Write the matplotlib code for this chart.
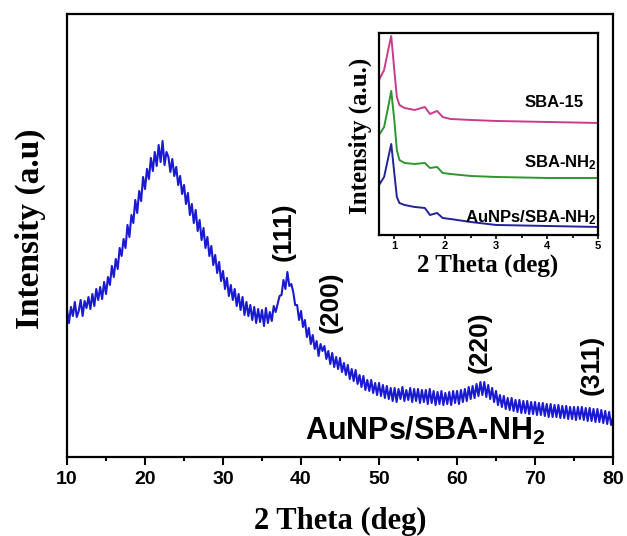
import numpy as np
import matplotlib
matplotlib.use('Agg')
import matplotlib.pyplot as plt
from matplotlib.ticker import MultipleLocator

plt.rcParams.update({
    'font.family': 'Liberation Sans',
    'font.weight': 'bold',
    'mathtext.fontset': 'custom',
    'mathtext.rm': 'Liberation Sans:bold',
    'mathtext.bf': 'Liberation Sans:bold',
    'mathtext.it': 'Liberation Sans:bold',
})

# ── Main XRD pattern (2θ = 10..80, step 0.25) ──
two_theta = np.arange(10, 80.001, 0.25)
intensity = [
    147, 134, 150, 141,  155, 140, 146, 157,  141, 156, 149, 160,  148, 163, 151, 168,
    157, 170, 158, 175,  163, 180, 172, 191,  180, 198, 188, 209,  201, 218, 209, 232,
    220, 242, 234, 257,  244, 266, 256, 280,  268, 288, 278, 299,  286, 305, 291, 312,
    295, 316, 292, 305,  300, 285, 298, 281,  290, 272, 281, 263,  272, 253, 264, 242,
    253, 234, 247, 226,  237, 217, 229, 209,  220, 201, 211, 192,  202, 184, 195, 176,
    186, 168, 179, 161,  172, 157, 168, 151,  163, 147, 160, 142,  155, 141, 152, 137,
    150, 134, 148, 135,  147, 131, 149, 134,  145, 136, 151, 145,  153, 161, 162, 177,
    168, 185, 171, 173,  165, 152, 152, 137,  146, 130, 137, 120,  129, 113, 122, 108,
    116, 101, 113, 106,  111, 98, 106, 93,    104, 90, 100, 88,    99, 85, 94, 82,
    92, 78, 88, 76,      87, 73, 82, 70,      81, 67, 77, 66,      77, 64, 74, 62,
    74, 61, 72, 59,      71, 58, 69, 56,      69, 55, 68, 58,      70, 56, 67, 57,
    69, 55, 68, 56,      68, 54, 67, 55,      67, 53, 68, 54,      66, 52, 65, 53,
    66, 52, 64, 53,      65, 52, 66, 54,      66, 53, 67, 55,      68, 56, 70, 58,
    71, 59, 73, 61,      75, 62, 75, 60,      72, 58, 69, 55,      66, 52, 62, 50,
    61, 48, 59, 47,      59, 46, 57, 45,      57, 44, 56, 44,      56, 43, 55, 43,
    55, 42, 54, 42,      54, 41, 53, 40,      53, 40, 52, 40,      52, 39, 51, 39,
    51, 38, 50, 38,      50, 37, 50, 38,      50, 37, 49, 36,      49, 36, 48, 35,
    48, 35, 47, 34,      46, 33, 45, 32,      40,
]

# reflections: (label, 2θ, label height)
peaks = [('(111)', 37.8, 225), ('(200)', 43.85, 155),
         ('(220)', 62.95, 115), ('(311)', 77.3, 92)]

# ── Inset: low-angle patterns ──
low_theta = [0.7, 0.8, 0.88, 0.94, 1.0, 1.05, 1.1, 1.2, 1.4, 1.6, 1.7, 1.84, 1.95, 2.1, 2.5, 3.0, 4.0, 5.0]
sba15     = [155, 165, 185, 199, 165, 138, 130, 127, 125, 128, 121, 124, 118, 116, 115, 114, 113, 112]
sba_nh2   = [100, 108, 128, 144, 115, 85, 75, 72, 71, 72, 67, 68, 62, 61, 59, 58, 57, 57]
au_sba    = [50, 58, 77, 91, 62, 38, 32, 30, 28, 27, 20, 22, 17, 16, 13, 10, 9, 8]

fig = plt.figure(figsize=(6.27, 5.36), dpi=100)
ax = fig.add_axes([0.1069, 0.1474, 0.8708, 0.8265])
ax.plot(two_theta, intensity, color='#1a1ad2', linewidth=1.5)
ax.set_xlim(10, 80)
ax.set_ylim(0, 443)
ax.xaxis.set_major_locator(MultipleLocator(10))
ax.xaxis.set_minor_locator(MultipleLocator(5))
ax.set_yticks([])
ax.tick_params(axis='x', which='major', direction='out', length=6, width=1.5, labelsize=14, pad=4)
ax.tick_params(axis='x', which='minor', direction='out', length=3, width=1.5)
for s in ax.spines.values():
    s.set_linewidth(1.6)

for lab, x, y in peaks:
    ax.text(x, y, lab, rotation=90, ha='center', va='center', fontsize=19)
ax.text(40.5, 17, 'AuNPs/SBA-NH$_2$', fontsize=22, ha='left', va='baseline')

fig.text(0.5423, 0.028, '2 Theta (deg)', family='Liberation Serif', weight='bold',
         fontsize=22, ha='center', va='center')
fig.text(0.049, 0.573, 'Intensity (a.u)', family='Liberation Serif', weight='bold',
         fontsize=24, rotation=90, ha='center', va='center')

# inset
axi = fig.add_axes([0.6045, 0.5616, 0.3493, 0.3769])
axi.plot(low_theta, sba15, color='#c83c8c', linewidth=1.4)
axi.plot(low_theta, sba_nh2, color='#2e962e', linewidth=1.4)
axi.plot(low_theta, au_sba, color='#22229a', linewidth=1.4)
axi.set_xlim(0.7, 5)
axi.set_ylim(0, 202)
axi.set_yticks([])
axi.xaxis.set_major_locator(MultipleLocator(1))
axi.xaxis.set_minor_locator(MultipleLocator(0.5))
axi.tick_params(axis='x', which='major', direction='out', length=3, width=1.2, labelsize=8, pad=1)
axi.tick_params(axis='x', which='minor', direction='out', length=2, width=1.2)
for s in axi.spines.values():
    s.set_linewidth(1.6)

axi.text(4.71, 132, 'SBA-15', fontsize=12, ha='right', va='center')
axi.text(4.97, 68, 'SBA-NH$_2$', fontsize=12, ha='right', va='baseline')
axi.text(4.97, 13, 'AuNPs/SBA-NH$_2$', fontsize=12, ha='right', va='baseline')

fig.text(488 / 627, 1 - 265 / 536, '2 Theta (deg)', family='Liberation Serif', weight='bold',
         fontsize=18, ha='center', va='center')
fig.text(360 / 627, 1 - 136 / 536, 'Intensity (a.u.)', family='Liberation Serif', weight='bold',
         fontsize=18, rotation=90, ha='center', va='center')

fig.savefig('out.png', dpi=100)
